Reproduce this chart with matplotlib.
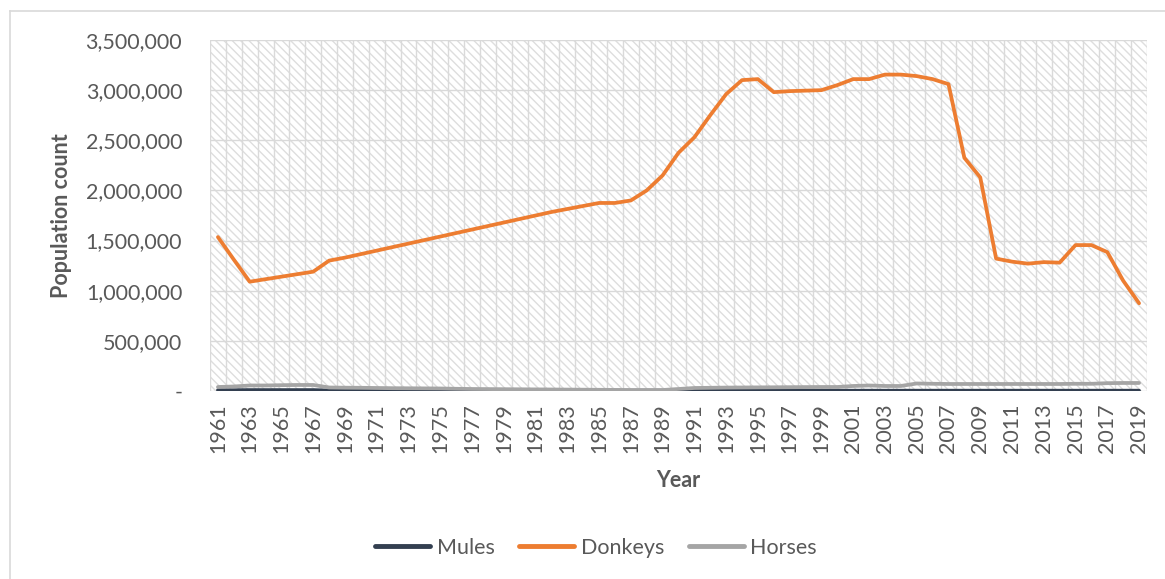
import matplotlib
matplotlib.use("Agg")
import matplotlib.pyplot as plt
from matplotlib.patches import Rectangle
from matplotlib.lines import Line2D
from matplotlib.ticker import FuncFormatter, MultipleLocator
import numpy as np

years = list(range(1961, 2020))

donkeys = [1535, 1310, 1090, 1115, 1140, 1165, 1190, 1300, 1330, 1365,
           1400, 1435, 1470, 1505, 1540, 1575, 1610, 1645, 1680, 1715,
           1750, 1785, 1815, 1845, 1875, 1875, 1900, 2000, 2150, 2375,
           2530, 2750, 2960, 3100, 3110, 2980, 2990, 2995, 3000, 3050,
           3110, 3110, 3155, 3155, 3140, 3110, 3060, 2325, 2130, 1320,
           1290, 1270, 1285, 1280, 1455, 1455, 1385, 1100, 875]
donkeys = [v * 1000 for v in donkeys]

horses = [40, 45, 55, 55, 58, 60, 60, 35, 33, 32,
          30, 28, 27, 26, 25, 22, 20, 19, 18, 17,
          16, 15, 14, 13, 12, 11, 10, 10, 10, 20,
          30, 32, 34, 35, 36, 37, 38, 39, 40, 40,
          50, 55, 50, 50, 75, 72, 70, 70, 70, 70,
          70, 70, 70, 70, 72, 72, 78, 80, 80]
horses = [v * 1000 for v in horses]

mules = [8, 8, 9, 9, 9, 9, 9, 5, 5, 5,
         4, 4, 4, 4, 4, 3, 3, 3, 3, 3,
         3, 3, 3, 3, 3, 3, 3, 3, 3, 3,
         3, 3, 3, 3, 3, 3, 3, 3, 3, 3,
         3, 3, 3, 3, 3, 3, 3, 3, 3, 3,
         3, 3, 3, 3, 3, 3, 3, 3, 3]
mules = [v * 1000 for v in mules]

series_names = ["Mules", "Donkeys", "Horses"]
series_colors = ["#333F50", "#ED7D31", "#A5A5A5"]

plt.rcParams['font.family'] = ['Lato', 'DejaVu Sans']
txt = "#595959"
fs = 15.5

fig = plt.figure(figsize=(11.65, 5.79), dpi=100)
ax = fig.add_axes([210/1165, 1-391/579, (1147-210)/1165, (391-40)/579])

# chart area border (left & top)
fig.add_artist(Line2D([10/1165, 10/1165], [0, 1-11/579], transform=fig.transFigure, color="#d9d9d9", lw=1.2))
fig.add_artist(Line2D([10/1165, 1], [1-11/579, 1-11/579], transform=fig.transFigure, color="#d9d9d9", lw=1.2))

# hatched plot area
ax.patch.set_facecolor("white")
hatch_rect = Rectangle((0, 0), 1, 1, transform=ax.transAxes, facecolor="white",
                       edgecolor="#dedede", hatch="\\\\\\\\", linewidth=0, zorder=0)
ax.add_patch(hatch_rect)

for vals, name, col in zip([mules, donkeys, horses], series_names, series_colors):
    ax.plot(years, vals, color=col, lw=2.7, label=name, zorder=3, solid_capstyle="round")

ax.set_xlim(1960.5, 2019.5)
ax.set_ylim(0, 3500000)
ax.yaxis.set_major_locator(MultipleLocator(500000))
ax.yaxis.set_major_formatter(FuncFormatter(lambda v, p: "-" if v == 0 else f"{v:,.0f}"))
ax.set_xticks(years[::2])
ax.set_xticklabels([str(y) for y in years[::2]], rotation=90)
ax.set_xticks(np.arange(1960.5, 2020.0, 1.0), minor=True)

ax.grid(True, which="major", axis="y", color="#d9d9d9", lw=1.0, zorder=1)
ax.grid(True, which="minor", axis="x", color="#dadada", lw=1.0, zorder=1)
ax.set_axisbelow(True)

for s in ax.spines.values():
    s.set_visible(False)

ax.tick_params(axis="both", which="both", length=0, colors=txt, labelsize=fs)
ax.tick_params(axis="y", pad=20)
ax.tick_params(axis="x", pad=9)

ax.set_ylabel("Population count", fontsize=fs, fontweight="bold", color=txt, labelpad=10)
ax.set_xlabel("Year", fontsize=fs, fontweight="bold", color=txt, labelpad=12)

leg = fig.legend(loc="center", bbox_to_anchor=(596/1165, 1-548/579), ncol=3, frameon=False,
                 fontsize=fs, handlelength=2.55, columnspacing=1.15, handletextpad=0.3)
for t in leg.get_texts():
    t.set_color(txt)
for h in leg.get_lines():
    h.set_linewidth(3.5)

fig.savefig("out.png", dpi=100, facecolor="white")
